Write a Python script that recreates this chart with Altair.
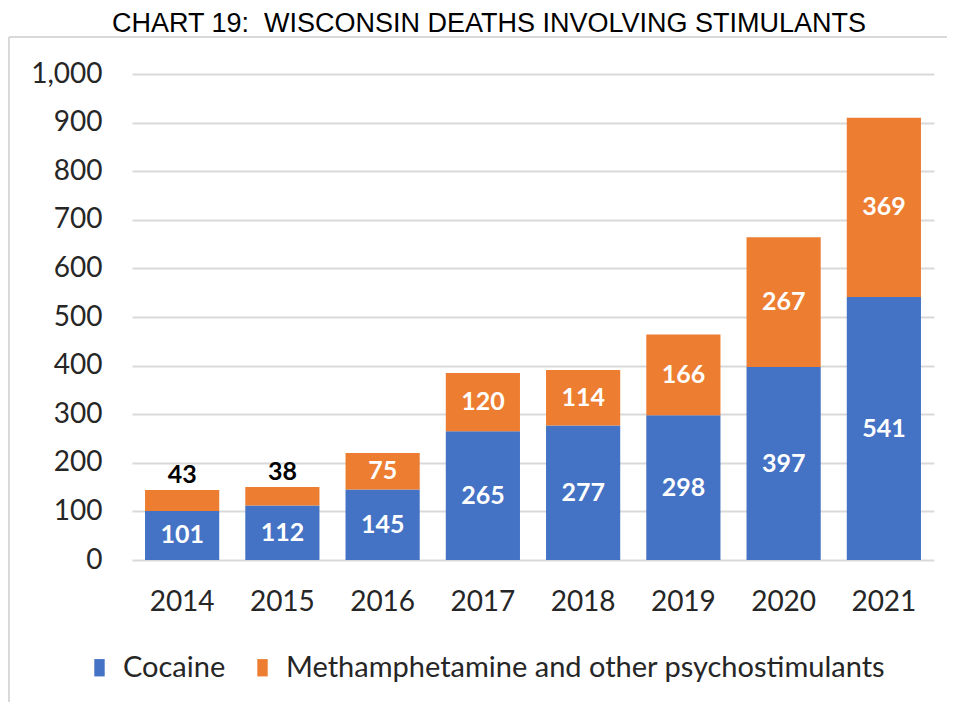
import altair as alt
import pandas as pd

years = ["2014", "2015", "2016", "2017", "2018", "2019", "2020", "2021"]
cocaine = [101, 112, 145, 265, 277, 298, 397, 541]
meth = [43, 38, 75, 120, 114, 166, 267, 369]
series = ["Cocaine", "Methamphetamine and other psychostimulants"]
colors = ["#4472C4", "#ED7D31"]
y_ticks = [0, 100, 200, 300, 400, 500, 600, 700, 800, 900, 1000]

rows = []
for i, y in enumerate(years):
    rows.append({"year": y, "series": series[0], "value": cocaine[i], "ord": 0})
    rows.append({"year": y, "series": series[1], "value": meth[i], "ord": 1})
df = pd.DataFrame(rows)

FONT = "Lato"
base = alt.Chart(df).transform_stack(
    stack="value", groupby=["year"], as_=["y0", "y1"], sort=[alt.SortField("ord")]
).transform_calculate(mid="(datum.y0 + datum.y1) / 2")

x_enc = alt.X("year:N", title=None,
              scale=alt.Scale(paddingInner=0.26, paddingOuter=0.13),
              axis=alt.Axis(labelAngle=0, labelFontSize=28, labelFont=FONT,
                            labelColor="#262626", labelPadding=28, ticks=False,
                            domain=False, grid=False))

bars = base.mark_bar().encode(
    x=x_enc,
    y=alt.Y("y0:Q", title=None,
            scale=alt.Scale(domain=[0, 1000], nice=False),
            axis=alt.Axis(values=y_ticks, format=",.0f", labelFontSize=28,
                          labelFont=FONT, labelColor="#262626", labelPadding=30,
                          ticks=False, domain=False, gridColor="#d9d9d9",
                          gridWidth=2)),
    y2="y1:Q",
    color=alt.Color("series:N", title=None,
                    scale=alt.Scale(domain=series, range=colors),
                    legend=alt.Legend(orient="none", direction="horizontal",
                                      legendX=-47, legendY=579,
                                      labelFontSize=29, labelFont=FONT,
                                      labelColor="#262626", labelLimit=1000,
                                      symbolType="M-0.6,-1H0.6V1H-0.6Z",
                                      symbolSize=300, symbolStrokeWidth=0,
                                      labelOffset=9, columnPadding=22)),
)

inside = base.transform_filter("datum.value >= 50").mark_text(
    font=FONT, fontSize=25, fontWeight="bold", color="white", baseline="middle"
).encode(x=alt.X("year:N"), y=alt.Y("mid:Q"), text=alt.Text("value:Q"))

above = base.transform_filter("datum.value < 50").mark_text(
    font=FONT, fontSize=25, fontWeight="bold", color="black",
    baseline="middle", dy=-15
).encode(x=alt.X("year:N"), y=alt.Y("y1:Q"), text=alt.Text("value:Q"))

border_top = alt.Chart(df).mark_rule(color="#d9d9d9", strokeWidth=2).encode(
    x=alt.value(-123), x2=alt.value(815), y=alt.value(-37))
border_left = alt.Chart(df).mark_rule(color="#d9d9d9", strokeWidth=2).encode(
    x=alt.value(-123), y=alt.value(-37), y2=alt.value(628))

chart = alt.layer(bars, inside, above, border_top, border_left).properties(
    width=802, height=486,
    padding={"top": 2, "left": 0, "right": 0, "bottom": 0},
    title=alt.TitleParams("CHART 19:\u00a0 WISCONSIN DEATHS INVOLVING STIMULANTS",
                          font="Liberation Sans", fontSize=27, fontWeight="normal",
                          color="black", anchor="middle", frame="group",
                          dx=-44, offset=-2),
).configure_view(stroke=None)

chart.save("out.html", embed_options={"renderer": "svg", "actions": False})
